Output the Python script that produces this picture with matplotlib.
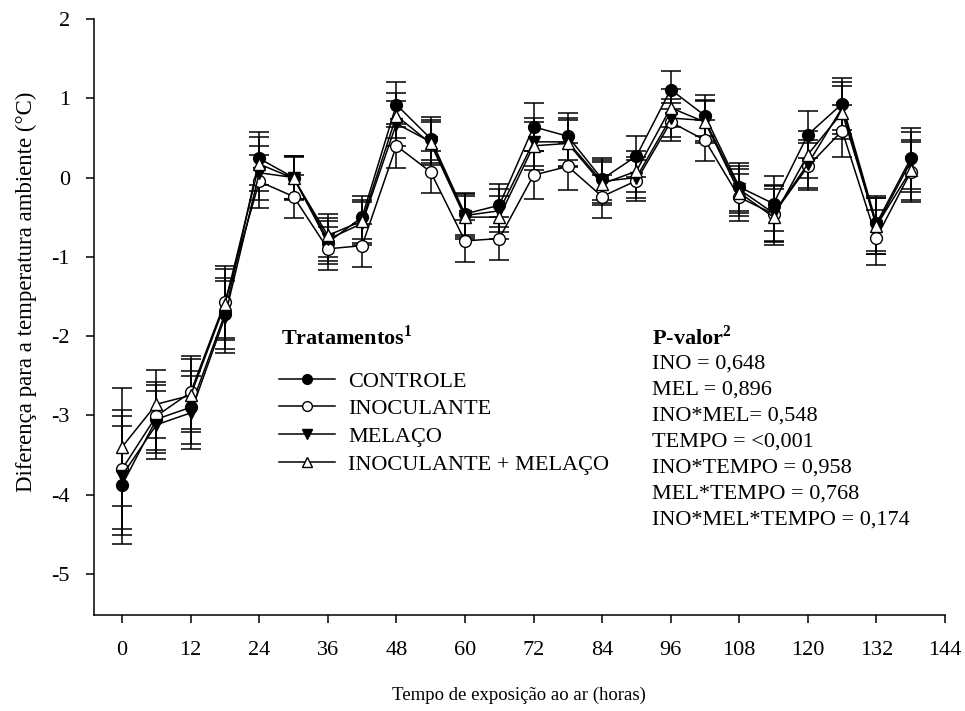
import numpy as np
import matplotlib
matplotlib.use("Agg")
import matplotlib.pyplot as plt
from matplotlib.lines import Line2D

plt.rcParams['font.family'] = ['Liberation Serif', 'DejaVu Serif']
plt.rcParams['axes.unicode_minus'] = False
plt.rcParams['mathtext.fontset'] = 'custom'
plt.rcParams['mathtext.rm'] = 'Liberation Serif'
plt.rcParams['mathtext.bf'] = 'Liberation Serif:bold'

# tempo de exposição (horas)
tempo = [0, 6, 12, 18, 24, 30, 36, 42, 48, 54, 60, 66,
         72, 78, 84, 90, 96, 102, 108, 114, 120, 126, 132, 138]

controle = [-3.88, -3.05, -2.90, -1.72, 0.24, 0.00, -0.82, -0.50, 0.92, 0.49, -0.46, -0.35,
            0.64, 0.52, -0.02, 0.27, 1.11, 0.78, -0.12, -0.33, 0.54, 0.93, -0.58, 0.24]
inoculante = [-3.68, -3.01, -2.71, -1.57, -0.05, -0.24, -0.90, -0.86, 0.40, 0.07, -0.80, -0.77,
              0.03, 0.14, -0.24, -0.04, 0.70, 0.47, -0.25, -0.46, 0.14, 0.59, -0.76, 0.07]
melaco = [-3.76, -3.12, -2.97, -1.76, 0.06, 0.00, -0.78, -0.58, 0.68, 0.45, -0.48, -0.42,
          0.45, 0.45, -0.05, 0.00, 0.75, 0.72, -0.15, -0.45, 0.17, 0.88, -0.61, 0.20]
ino_mel = [-3.40, -2.86, -2.75, -1.60, 0.17, -0.01, -0.73, -0.55, 0.78, 0.43, -0.50, -0.50,
           0.40, 0.43, -0.08, 0.08, 0.88, 0.70, -0.19, -0.50, 0.29, 0.82, -0.61, 0.09]

# erro padrão por tempo
erro = [0.75, 0.43, 0.46, 0.45, 0.34, 0.27, 0.27, 0.27, 0.28, 0.27, 0.27, 0.27,
        0.30, 0.30, 0.27, 0.26, 0.24, 0.26, 0.30, 0.35, 0.30, 0.33, 0.35, 0.38]

rotulos = ["CONTROLE", "INOCULANTE", "MELAÇO", "INOCULANTE + MELAÇO"]
series = [controle, inoculante, melaco, ino_mel]
marcadores = ["o", "o", "v", "^"]
preench = ["black", "white", "black", "white"]

pvalores = ["INO = 0,648", "MEL = 0,896", "INO*MEL= 0,548", "TEMPO = <0,001",
            "INO*TEMPO = 0,958", "MEL*TEMPO = 0,768", "INO*MEL*TEMPO = 0,174"]

W, H = 965, 711
fs = 16


def px(x, y):
    # pixel (a partir do canto superior esquerdo) -> coordenada da figura
    return x / W, 1 - y / H


fig = plt.figure(figsize=(W / 100, H / 100), dpi=100)
ax = fig.add_axes([93.5 / W, 1 - 615 / H, (945 - 93.5) / W, (615 - 19) / H])

for y, m, fc in zip(series, marcadores, preench):
    ax.errorbar(tempo, y, yerr=erro, fmt="-", marker=m, color="black",
                mfc=fc, mec="black", ms=8.5, lw=1.1, elinewidth=1.1,
                capsize=7, capthick=1.1, zorder=3)

ax.set_xlim(-5, 144)
ax.set_ylim(-5.52, 2)
ax.set_xticks(range(0, 145, 12))
ax.set_yticks(range(-5, 3))
ax.spines["top"].set_visible(False)
ax.spines["right"].set_visible(False)
ax.tick_params(direction="out", length=6, width=1.1, labelsize=fs, pad=11)
ax.tick_params(axis="x", pad=13)
for s in ["left", "bottom"]:
    ax.spines[s].set_linewidth(1.1)

ax.set_xlabel("Tempo de exposição ao ar (horas)", fontsize=13.5)
ax.xaxis.set_label_coords(0.5, -0.121)
ax.set_ylabel("Diferença para a temperatura ambiente (°C)", fontsize=16.5)
ax.yaxis.set_label_coords(-0.066, 0.542)

# legenda
handles = [Line2D([], [], color="black", lw=1.1, marker=m, mfc=fc, mec="black", ms=7)
           for m, fc in zip(marcadores, preench)]
ax.legend(handles, rotulos, loc="upper left", bbox_to_anchor=px(279, 371),
          bbox_transform=fig.transFigure, frameon=False, fontsize=fs,
          handlelength=2.5, handletextpad=0.6, labelspacing=0.32,
          borderpad=0, borderaxespad=0)
fig.text(*px(281, 338), r"Tratamentos$^{\mathbf{1}}$", fontsize=fs, fontweight="bold",
         va="center", ha="left")

fig.text(*px(652, 338), r"P-valor$^{\mathbf{2}}$", fontsize=fs, fontweight="bold",
         va="center", ha="left")
for i, t in enumerate(pvalores):
    fig.text(*px(652, 364 + 26 * i), t, fontsize=fs, va="center", ha="left")

fig.savefig("out.png", dpi=100)
